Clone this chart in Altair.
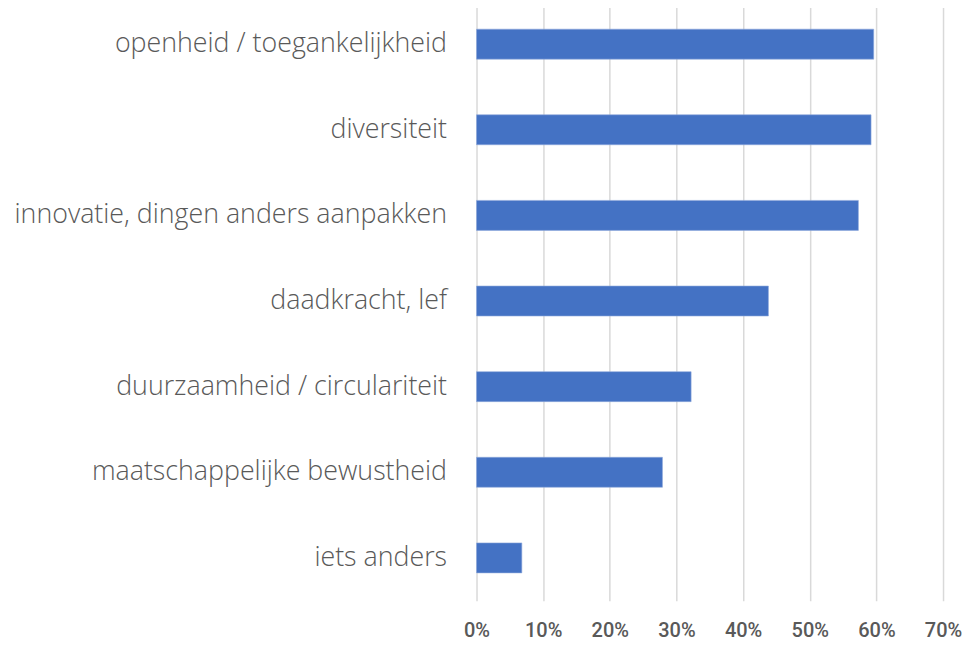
import altair as alt
import pandas as pd

categories = [
    "openheid / toegankelijkheid",
    "diversiteit",
    "innovatie, dingen anders aanpakken",
    "daadkracht, lef",
    "duurzaamheid / circulariteit",
    "maatschappelijke bewustheid",
    "iets anders",
]
values = [0.596, 0.592, 0.573, 0.438, 0.322, 0.279, 0.068]
tick_values = [0, 0.1, 0.2, 0.3, 0.4, 0.5, 0.6, 0.7]

df = pd.DataFrame({"cat": categories, "val": values})

chart = alt.Chart(df).mark_bar(color="#4472C4", stroke="#8FAADC", strokeWidth=0.6).encode(
    x=alt.X(
        "val:Q",
        scale=alt.Scale(domain=[0, 0.7], nice=False, zero=True),
        axis=alt.Axis(
            values=tick_values, format=".0%", title=None, domain=False, ticks=False,
            grid=True, gridColor="#D9D9D9", gridWidth=1.5,
            labelFont="Roboto", labelFontSize=20, labelFontWeight=500,
            labelColor="#595959", labelPadding=20, labelFlush=False,
        ),
    ),
    y=alt.Y(
        "cat:N",
        sort=None,
        scale=alt.Scale(paddingInner=0.65, paddingOuter=0.325),
        axis=alt.Axis(
            title=None, domain=False, ticks=False, grid=False,
            labelFont="Open Sans", labelFontSize=26.8, labelFontWeight=300,
            labelColor="#595959", labelPadding=30, labelLimit=600,
        ),
    ),
).properties(
    width=467,
    height=600,
    autosize=alt.AutoSizeParams(type="none"),
    padding={"left": 469, "top": -7, "right": 27, "bottom": 50},
).configure_view(stroke=None)

chart.save("out.html", embed_options={"renderer": "svg", "actions": False})
